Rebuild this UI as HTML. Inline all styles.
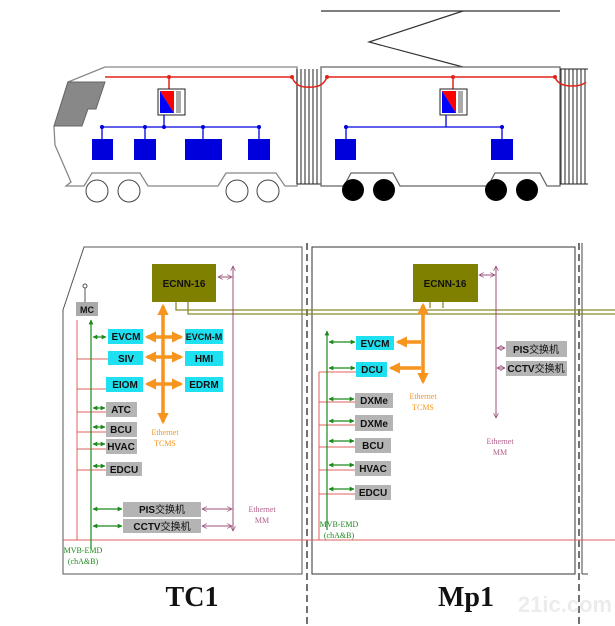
<!DOCTYPE html>
<html><head><meta charset="utf-8"><style>
html,body{margin:0;padding:0;background:#fff;}
svg{display:block;}
.b{font-family:"Liberation Sans",sans-serif;font-weight:bold;font-size:10px;fill:#111;}
.c{font-family:"Liberation Sans","Noto Sans CJK SC",sans-serif;font-weight:bold;font-size:10px;fill:#111;}
.s{font-family:"Liberation Serif",serif;font-size:8px;}
</style></head><body>
<svg width="615" height="626" viewBox="0 0 615 626" xmlns="http://www.w3.org/2000/svg">
<defs>
<marker id="ga" viewBox="0 0 10 10" refX="9" refY="5" markerWidth="4" markerHeight="4" orient="auto-start-reverse"><path d="M0,0L10,5L0,10z" fill="#1a8a1a"/></marker>
<marker id="oa" viewBox="0 0 10 10" refX="8" refY="5" markerWidth="3.2" markerHeight="3.2" orient="auto-start-reverse"><path d="M0,0L10,5L0,10z" fill="#f7941d"/></marker>
<marker id="pa" viewBox="0 0 10 10" refX="9" refY="5" markerWidth="6" markerHeight="6" orient="auto-start-reverse"><path d="M1,1L9,5L1,9" fill="none" stroke="#9b4f7a" stroke-width="1.2"/></marker>
</defs>
<g stroke="#333" stroke-width="1.2" fill="none">
<line x1="321" y1="11" x2="560" y2="11"/>
<polyline points="463,11 369,42 463,67"/>
</g>
<path d="M105,67 L297,67 L297,186 L285,186 L276,173 L226,173 L218,186 L148,186 L140,173 L92,173 L84,186 L66,186 L71,182 L55,145 L54,127 L68,82 Z" fill="#fff" stroke="#888" stroke-width="1.3"/>
<polygon points="68,82 105,82 96,109 88,109 82,126 54,126" fill="#888" stroke="#666"/>
<g fill="#fff" stroke="#444" stroke-width="1"><circle cx="97" cy="191" r="11"/><circle cx="129" cy="191" r="11"/><circle cx="237" cy="191" r="11"/><circle cx="268" cy="191" r="11"/></g>
<g stroke="#222" stroke-width="1"><line x1="297" y1="69" x2="297" y2="184"/><line x1="301" y1="69" x2="301" y2="184"/><line x1="305" y1="69" x2="305" y2="184"/><line x1="309" y1="69" x2="309" y2="184"/><line x1="313" y1="69" x2="313" y2="184"/><line x1="317" y1="69" x2="317" y2="184"/><line x1="297" y1="184" x2="321" y2="184"/></g>
<path d="M321,67 L560,67 L560,186 L547,186 L540,173 L495,173 L488,186 L400,186 L393,173 L351,173 L344,186 L321,186 Z" fill="#fff" stroke="#666" stroke-width="1.3"/>
<g fill="#000"><circle cx="353" cy="190" r="11"/><circle cx="384" cy="190" r="11"/><circle cx="496" cy="190" r="11"/><circle cx="527" cy="190" r="11"/></g>
<g stroke="#222" stroke-width="1"><line x1="561" y1="69" x2="561" y2="184"/><line x1="565" y1="69" x2="565" y2="184"/><line x1="569" y1="69" x2="569" y2="184"/><line x1="573" y1="69" x2="573" y2="184"/><line x1="577" y1="69" x2="577" y2="184"/><line x1="581" y1="69" x2="581" y2="184"/><line x1="585" y1="69" x2="585" y2="184"/><line x1="560" y1="184" x2="588" y2="184"/><line x1="560" y1="69" x2="588" y2="69"/></g>
<g stroke="#e2231a" stroke-width="1.5" fill="none">
<line x1="105" y1="77" x2="292" y2="77"/><path d="M292,77 Q296,88 309,87 Q323,88 327,77"/><line x1="327" y1="77" x2="555" y2="77"/><path d="M555,77 Q558,86 572,86 Q582,86 586,82"/>
<line x1="169" y1="77" x2="169" y2="90"/><line x1="453" y1="77" x2="453" y2="90"/>
</g>
<g fill="#e2231a"><circle cx="169" cy="77" r="2"/><circle cx="292" cy="77" r="2"/><circle cx="327" cy="77" r="2"/><circle cx="453" cy="77" r="2"/><circle cx="555" cy="77" r="2"/></g>
<g>
<rect x="158" y="89" width="27" height="26" fill="#fff" stroke="#222"/><polygon points="160,91 174,91 174,113" fill="#f00"/><polygon points="160,91 174,113 160,113" fill="#00f"/><rect x="176" y="91" width="5" height="22" fill="#aaa"/>
<rect x="440" y="89" width="27" height="26" fill="#fff" stroke="#222"/><polygon points="442,91 456,91 456,113" fill="#f00"/><polygon points="442,91 456,113 442,113" fill="#00f"/><rect x="458" y="91" width="5" height="22" fill="#aaa"/>
</g>
<g stroke="#0000dd" stroke-width="1.3">
<line x1="102" y1="127" x2="259" y2="127"/><line x1="164" y1="115" x2="164" y2="127"/>
<line x1="102" y1="127" x2="102" y2="139"/><line x1="145" y1="127" x2="145" y2="139"/><line x1="203" y1="127" x2="203" y2="139"/><line x1="259" y1="127" x2="259" y2="139"/>
<line x1="346" y1="127" x2="502" y2="127"/><line x1="446" y1="115" x2="446" y2="127"/><line x1="346" y1="127" x2="346" y2="139"/><line x1="502" y1="127" x2="502" y2="139"/>
</g>
<g fill="#0000dd"><circle cx="102" cy="127" r="2"/><circle cx="145" cy="127" r="2"/><circle cx="164" cy="127" r="2"/><circle cx="203" cy="127" r="2"/><circle cx="259" cy="127" r="2"/><circle cx="346" cy="127" r="2"/><circle cx="502" cy="127" r="2"/>
<rect x="92" y="139" width="21" height="21"/><rect x="134" y="139" width="22" height="21"/><rect x="185" y="139" width="37" height="21"/><rect x="248" y="139" width="22" height="21"/>
<rect x="335" y="139" width="21" height="21"/><rect x="491" y="139" width="22" height="21"/></g>

<path d="M84,247 L302,247 L302,574 L63,574 L63,310 Z" fill="none" stroke="#555" stroke-width="1"/>
<rect x="312" y="247" width="263" height="327" fill="none" stroke="#333" stroke-width="1"/>
<g stroke="#444" stroke-width="1.5" stroke-dasharray="7,4"><line x1="307" y1="243" x2="307" y2="626"/><line x1="579" y1="243" x2="579" y2="626"/></g>
<g stroke="#444" stroke-width="1"><line x1="582" y1="243" x2="582" y2="574"/><line x1="582" y1="574" x2="588" y2="574"/></g>

<g stroke="#8a8a2a" stroke-width="1.3" fill="none">
<path d="M176,302 L176,310 L615,310"/><path d="M188,302 L188,314 L615,314"/>
<path d="M430,302 L430,308"/><path d="M443,302 L443,308"/>
</g>
<rect x="152" y="264" width="64" height="38" fill="#7f7f00"/><text x="184" y="287" class="b" text-anchor="middle">ECNN-16</text>
<rect x="413" y="264" width="65" height="38" fill="#7f7f00"/><text x="445" y="287" class="b" text-anchor="middle">ECNN-16</text>

<g stroke="#e06060" stroke-width="1" fill="none">
<line x1="63" y1="540" x2="615" y2="540"/><line x1="77" y1="320" x2="77" y2="540"/>
<line x1="77" y1="359" x2="108" y2="359"/><line x1="77" y1="389" x2="106" y2="389"/><line x1="77" y1="412" x2="106" y2="412"/><line x1="77" y1="432" x2="106" y2="432"/><line x1="77" y1="449" x2="106" y2="449"/><line x1="77" y1="470" x2="106" y2="470"/>
<line x1="319" y1="372" x2="319" y2="540"/><line x1="319" y1="372" x2="356" y2="372"/><line x1="319" y1="402" x2="355" y2="402"/><line x1="319" y1="425" x2="355" y2="425"/><line x1="319" y1="447" x2="355" y2="447"/><line x1="319" y1="470" x2="355" y2="470"/><line x1="319" y1="494" x2="355" y2="494"/>
</g>
<line x1="85" y1="287" x2="85" y2="302" stroke="#555"/><circle cx="85" cy="286" r="2" fill="#fff" stroke="#555"/>
<rect x="76" y="302" width="22" height="14" fill="#aaa"/><text x="87" y="313" class="b" text-anchor="middle" style="font-size:9px">MC</text>
<g stroke="#1a8a1a" stroke-width="1.2" fill="none">
<line x1="91" y1="548" x2="91" y2="320" marker-end="url(#ga)"/>
<line x1="93" y1="337" x2="106" y2="337" marker-start="url(#ga)" marker-end="url(#ga)"/>
<line x1="93" y1="408" x2="105" y2="408" marker-start="url(#ga)" marker-end="url(#ga)"/>
<line x1="93" y1="427" x2="105" y2="427" marker-start="url(#ga)" marker-end="url(#ga)"/>
<line x1="93" y1="444" x2="105" y2="444" marker-start="url(#ga)" marker-end="url(#ga)"/>
<line x1="93" y1="466" x2="105" y2="466" marker-start="url(#ga)" marker-end="url(#ga)"/>
<line x1="93" y1="509" x2="122" y2="509" marker-start="url(#ga)" marker-end="url(#ga)"/>
<line x1="93" y1="526" x2="122" y2="526" marker-start="url(#ga)" marker-end="url(#ga)"/>
<line x1="327" y1="530" x2="327" y2="331" marker-end="url(#ga)"/>
<line x1="329" y1="342" x2="355" y2="342" marker-start="url(#ga)" marker-end="url(#ga)"/>
<line x1="329" y1="368" x2="355" y2="368" marker-start="url(#ga)" marker-end="url(#ga)"/>
<line x1="329" y1="399" x2="354" y2="399" marker-start="url(#ga)" marker-end="url(#ga)"/>
<line x1="329" y1="421" x2="354" y2="421" marker-start="url(#ga)" marker-end="url(#ga)"/>
<line x1="329" y1="441" x2="354" y2="441" marker-start="url(#ga)" marker-end="url(#ga)"/>
<line x1="329" y1="465" x2="354" y2="465" marker-start="url(#ga)" marker-end="url(#ga)"/>
<line x1="329" y1="489" x2="354" y2="489" marker-start="url(#ga)" marker-end="url(#ga)"/>
</g>
<g stroke="#9b4f7a" stroke-width="1" fill="none">
<line x1="233" y1="266" x2="233" y2="531" marker-start="url(#pa)" marker-end="url(#pa)"/>
<line x1="218" y1="277" x2="232" y2="277" marker-start="url(#pa)" marker-end="url(#pa)"/>
<line x1="202" y1="509" x2="232" y2="509" marker-start="url(#pa)" marker-end="url(#pa)"/>
<line x1="202" y1="526" x2="232" y2="526" marker-start="url(#pa)" marker-end="url(#pa)"/>
<line x1="496" y1="266" x2="496" y2="418" marker-start="url(#pa)" marker-end="url(#pa)"/>
<line x1="479" y1="275" x2="495" y2="275" marker-start="url(#pa)" marker-end="url(#pa)"/>
<line x1="497" y1="348" x2="505" y2="348" marker-start="url(#pa)" marker-end="url(#pa)"/>
<line x1="497" y1="368" x2="505" y2="368" marker-start="url(#pa)" marker-end="url(#pa)"/>
</g>
<g stroke="#f7941d" stroke-width="3.5" fill="none">
<line x1="163" y1="306" x2="163" y2="422" marker-start="url(#oa)" marker-end="url(#oa)"/>
<line x1="147" y1="337" x2="181" y2="337" marker-start="url(#oa)" marker-end="url(#oa)"/>
<line x1="147" y1="357" x2="181" y2="357" marker-start="url(#oa)" marker-end="url(#oa)"/>
<line x1="147" y1="384" x2="181" y2="384" marker-start="url(#oa)" marker-end="url(#oa)"/>
<line x1="423" y1="305" x2="423" y2="382" marker-start="url(#oa)" marker-end="url(#oa)"/>
<line x1="398" y1="342" x2="421" y2="342" marker-start="url(#oa)"/>
<line x1="391" y1="368" x2="421" y2="368" marker-start="url(#oa)"/>
</g>
<g fill="#1ee0f0">
<rect x="108" y="329" width="35" height="15"/><rect x="185" y="329" width="38" height="15"/>
<rect x="108" y="351" width="35" height="14"/><rect x="185" y="351" width="38" height="15"/>
<rect x="106" y="377" width="37" height="15"/><rect x="185" y="377" width="38" height="15"/>
<rect x="356" y="336" width="38" height="14"/><rect x="356" y="362" width="31" height="15"/>
</g>
<g class="b" text-anchor="middle">
<text x="126" y="340">EVCM</text><text x="204" y="340" style="font-size:9px">EVCM-M</text>
<text x="126" y="362">SIV</text><text x="204" y="362">HMI</text>
<text x="125" y="388">EIOM</text><text x="204" y="388">EDRM</text>
<text x="375" y="347">EVCM</text><text x="372" y="373">DCU</text>
</g>
<g fill="#b4b4b4">
<rect x="106" y="402" width="31" height="15"/><rect x="106" y="422" width="31" height="15"/><rect x="106" y="439" width="31" height="15"/><rect x="106" y="462" width="36" height="14"/>
<rect x="123" y="502" width="78" height="15"/><rect x="123" y="519" width="78" height="14"/>
<rect x="355" y="393" width="38" height="15"/><rect x="355" y="415" width="38" height="16"/><rect x="355" y="438" width="36" height="15"/><rect x="355" y="461" width="36" height="15"/><rect x="355" y="485" width="36" height="15"/>
<rect x="506" y="341" width="61" height="16"/><rect x="506" y="361" width="61" height="15"/>
</g>
<g class="c" text-anchor="middle">
<text x="121" y="413">ATC</text><text x="121" y="433">BCU</text><text x="121" y="450">HVAC</text><text x="124" y="473">EDCU</text>
<text x="162" y="513">PIS<tspan style="font-weight:normal">交换机</tspan></text><text x="162" y="530">CCTV<tspan style="font-weight:normal">交换机</tspan></text>
<text x="374" y="404">DXMe</text><text x="374" y="427">DXMe</text><text x="373" y="449">BCU</text><text x="373" y="472">HVAC</text><text x="373" y="496">EDCU</text>
<text x="536" y="353">PIS<tspan style="font-weight:normal">交换机</tspan></text><text x="536" y="372">CCTV<tspan style="font-weight:normal">交换机</tspan></text>
</g>
<g class="s" text-anchor="middle">
<text x="165" y="435" fill="#f7941d">Ethernet</text><text x="165" y="446" fill="#f7941d">TCMS</text>
<text x="423" y="399" fill="#f7941d">Ethernet</text><text x="423" y="410" fill="#f7941d">TCMS</text>
<text x="262" y="512" fill="#b0608a">Ethernet</text><text x="262" y="523" fill="#b0608a">MM</text>
<text x="500" y="444" fill="#b0608a">Ethernet</text><text x="500" y="455" fill="#b0608a">MM</text>
<text x="83" y="553" fill="#1a8a1a">MVB-EMD</text><text x="83" y="564" fill="#1a8a1a">(chA&amp;B)</text>
<text x="339" y="527" fill="#1a8a1a">MVB-EMD</text><text x="339" y="538" fill="#1a8a1a">(chA&amp;B)</text>
</g>
<text x="192" y="606" text-anchor="middle" style="font-family:'Liberation Serif',serif;font-weight:bold;font-size:28px;fill:#111">TC1</text>
<text x="466" y="606" text-anchor="middle" style="font-family:'Liberation Serif',serif;font-weight:bold;font-size:28px;fill:#111">Mp1</text>
<text x="565" y="612" text-anchor="middle" style="font-family:'Liberation Sans','Noto Sans CJK SC',sans-serif;font-weight:bold;font-size:22px;fill:#ececec">21ic.com</text>
</svg>
</body></html>
